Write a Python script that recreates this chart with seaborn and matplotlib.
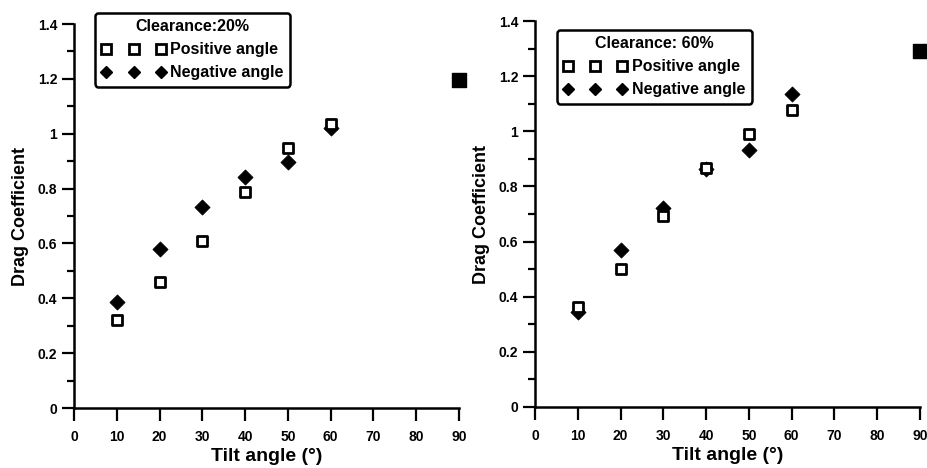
import matplotlib
matplotlib.use("Agg")
import matplotlib.pyplot as plt
import seaborn as sns
import pandas as pd
import numpy as np
from matplotlib.lines import Line2D
from matplotlib.ticker import MultipleLocator, FuncFormatter

sns.set_style("ticks")
plt.rcParams['font.family'] = ['Liberation Sans', 'DejaVu Sans']
plt.rcParams['font.weight'] = 'bold'
plt.rcParams['text.color'] = 'black'
plt.rcParams['axes.labelcolor'] = 'black'
plt.rcParams['xtick.color'] = 'black'
plt.rcParams['ytick.color'] = 'black'

angles = [10, 20, 30, 40, 50, 60]
pos_20 = [0.32, 0.46, 0.61, 0.786, 0.947, 1.035]
neg_20 = [0.386, 0.58, 0.734, 0.843, 0.898, 1.02]
pos_60 = [0.364, 0.502, 0.693, 0.868, 0.99, 1.077]
neg_60 = [0.346, 0.57, 0.72, 0.865, 0.932, 1.134]
flat_angle = [90]
flat_20 = [1.196]
flat_60 = [1.292]
titles = ["Clearance:20%", "Clearance: 60%"]
xticks = list(range(0, 100, 10))
yticks = [0, 0.2, 0.4, 0.6, 0.8, 1.0, 1.2, 1.4]

fig = plt.figure(figsize=(9.28, 4.68), dpi=100)
ax1 = fig.add_axes([74/928, 60/468, 385/928, 384/468])
ax2 = fig.add_axes([535/928, 61/468, 385/928, 386/468])

panels = [(ax1, pos_20, neg_20, flat_20, titles[0], (0.055, 1.029)),
          (ax2, pos_60, neg_60, flat_60, titles[1], (0.057, 0.977))]

def fmt(v, p):
    s = f"{v:.1f}"
    if s.endswith(".0"):
        s = s[:-2]
    return s

for ax, pos, neg, flat, title, anchor in panels:
    df_pos = pd.DataFrame({"angle": angles, "cd": pos})
    df_neg = pd.DataFrame({"angle": angles, "cd": neg})
    df_flat = pd.DataFrame({"angle": flat_angle, "cd": flat})
    sns.scatterplot(data=df_neg, x="angle", y="cd", ax=ax, marker="D", s=60,
                    color="black", edgecolor="black", linewidth=0.5, clip_on=False, zorder=3)
    sns.scatterplot(data=df_pos, x="angle", y="cd", ax=ax, marker="s", s=62,
                    facecolor="white", edgecolor="black", linewidth=2.0, clip_on=False, zorder=4)
    sns.scatterplot(data=df_flat, x="angle", y="cd", ax=ax, marker="s", s=90,
                    color="black", edgecolor="black", linewidth=1, clip_on=False, zorder=5)
    ax.set_xlim(0, 90)
    ax.set_ylim(0, 1.4)
    ax.set_xticks(xticks)
    ax.set_yticks(yticks)
    ax.yaxis.set_minor_locator(MultipleLocator(0.1))
    ax.yaxis.set_major_formatter(FuncFormatter(fmt))
    sns.despine(ax=ax)
    for sp in ["left", "bottom"]:
        ax.spines[sp].set_linewidth(1.8)
        ax.spines[sp].set_color("black")
    ax.tick_params(axis="x", which="major", direction="out", length=9, width=1.6,
                   labelsize=10, colors="black", pad=6.5)
    ax.tick_params(axis="y", which="major", direction="out", length=9, width=1.6,
                   labelsize=10, colors="black", pad=3)
    ax.tick_params(axis="y", which="minor", direction="out", length=5, width=1.6)
    for lab in ax.get_xticklabels() + ax.get_yticklabels():
        lab.set_fontweight("bold")
    ax.set_xlabel("Tilt angle (°)", fontsize=14, fontweight="bold", labelpad=3)
    ax.set_ylabel("Drag Coefficient", fontsize=13, fontweight="bold", labelpad=6)

    handles = [
        Line2D([], [], linestyle="", marker="s", markersize=7, markerfacecolor="white",
               markeredgecolor="black", markeredgewidth=2),
        Line2D([], [], linestyle="", marker="D", markersize=6.5, markerfacecolor="black",
               markeredgecolor="black"),
    ]
    leg = ax.legend(handles, ["Positive angle", "Negative angle"], title=title,
                    loc="upper left", bbox_to_anchor=anchor, numpoints=3,
                    handlelength=4.0, handletextpad=0.3, borderpad=0.4,
                    labelspacing=0.5, frameon=True, fancybox=True,
                    prop={"size": 11.5, "weight": "bold"},
                    title_fontproperties={"size": 11.5, "weight": "bold"},
                    borderaxespad=0)
    fr = leg.get_frame()
    fr.set_edgecolor("black")
    fr.set_linewidth(1.8)
    fr.set_alpha(1)

fig.savefig("out.png", dpi=100)
